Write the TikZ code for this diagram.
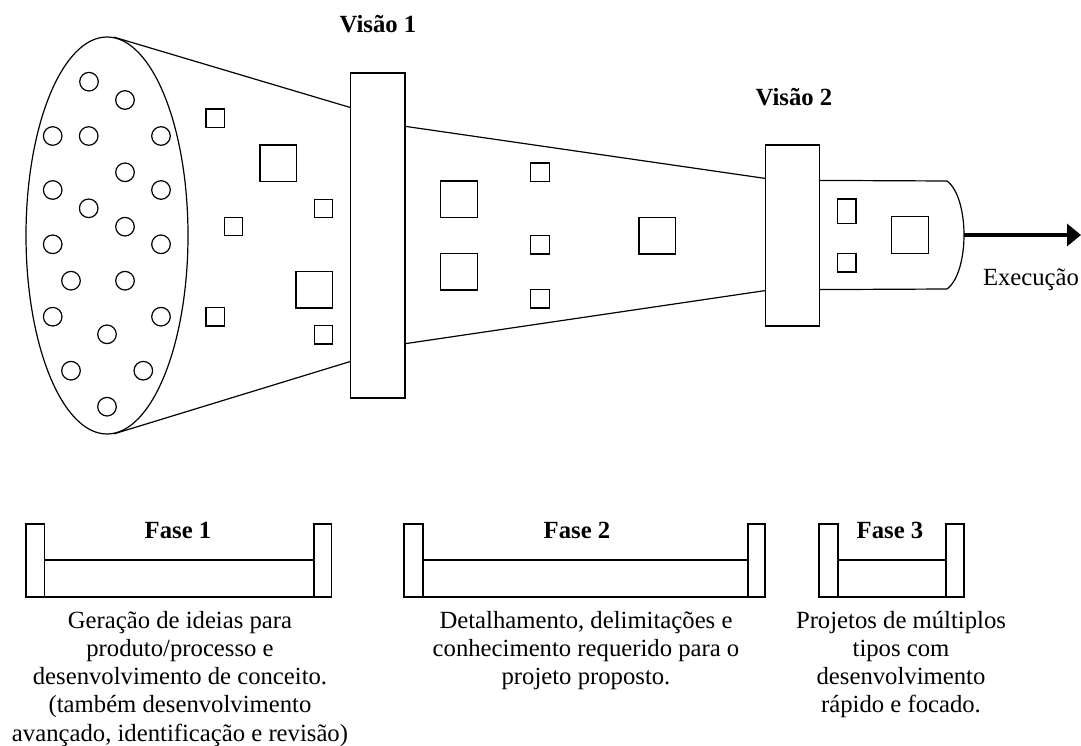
\documentclass[tikz,border=0pt]{standalone}
\usepackage{fontspec}
\setmainfont{Liberation Serif}
\usetikzlibrary{arrows.meta,shapes.geometric}
\begin{document}
\begin{tikzpicture}[x=1pt,y=-1pt,
  outline/.style={draw=black,line width=1.2pt},
  seed/.style={outline,circle,minimum size=18.6pt,inner sep=0pt},
  smallsq/.style={outline,rectangle,minimum size=18.4pt,inner sep=0pt},
  bigsq/.style={outline,rectangle,minimum size=36.7pt,inner sep=0pt},
  gate/.style={outline,rectangle,inner sep=0pt},
  title/.style={font=\fontsize{24.7}{28.3}\selectfont\bfseries,anchor=base,inner sep=0pt},
  desc/.style={font=\fontsize{24.7}{28.3}\selectfont,align=center,anchor=base,inner sep=0pt},
  flow/.style={-{Triangle[length=14pt,width=22pt]},line width=4pt}
]
\useasboundingbox[fill=white] (0,0) rectangle (1081,746);

% idea funnel mouth
\node[outline,ellipse,minimum width=162pt,minimum height=397pt,inner sep=0pt] (funnel) at (107,235.5) {};
\foreach \x/\y [count=\i] in {89/81.7,125/100,52.7/136,88.7/136,161/136,125/172.3,
  52.7/190,161/190,88.7/208.3,125/226.7,52.7/244.3,161/244.3,71/280.7,125/280.7,
  52.7/316.7,161/316.7,107/334.3,71/370.7,143.3/370.7,107/406.7}
  \node[seed] (idea\i) at (\x,\y) {};

% gates
\node[gate,minimum width=54.5pt,minimum height=325pt] (v1) at (377.8,235.5) {};
\node[gate,minimum width=53.6pt,minimum height=181pt] (v2) at (792.5,235.5) {};

% stage 1 walls
\draw[outline] (funnel.88) -- ([yshift=-35pt]v1.north west);
\draw[outline] (funnel.-88) -- ([yshift=37pt]v1.south west);
% stage 2 walls
\draw[outline] ([yshift=-54pt]v1.north east) -- ([yshift=-34pt]v2.north west);
\draw[outline] ([yshift=55pt]v1.south east) -- ([yshift=36pt]v2.south west);
% stage 3 tube
\coordinate (tube-end) at (964,235);
\coordinate (exec-tip) at (1081,235);
\draw[outline] ([yshift=-36pt]v2.north east) -- (947,181)
  .. controls (959,190) and (964,214) .. (tube-end)
  .. controls (964,256) and (959,280) .. (947,289)
  -- ([yshift=37pt]v2.south east);
\draw[flow] (tube-end) -- (exec-tip);
\node[desc] (exec) at (1031,285) {Execução};

% projects in stage 1
\node[smallsq] (a1) at (215.2,118.2) {};
\node[bigsq]   (a2) at (278.3,163.3) {};
\node[smallsq] (a3) at (323.3,208.5) {};
\node[smallsq] (a4) at (233.3,226.5) {};
\node[bigsq]   (a5) at (314.3,289.7) {};
\node[smallsq] (a6) at (215.2,316.7) {};
\node[smallsq] (a7) at (323.3,334.8) {};
% projects in stage 2
\node[bigsq]   (b1) at (458.8,199.3) {};
\node[smallsq] (b2) at (540,172.2) {};
\node[bigsq]   (b3) at (458.8,271.7) {};
\node[smallsq] (b4) at (540,244.7) {};
\node[smallsq] (b5) at (540,298.7) {};
\node[bigsq]   (b6) at (657.3,235.7) {};
% projects in stage 3
\node[outline,rectangle,minimum width=18.4pt,minimum height=24.3pt,inner sep=0pt] (c1) at (846.8,211.2) {};
\node[smallsq] (c2) at (846.8,262.7) {};
\node[bigsq]   (c3) at (910,235) {};

% gate titles
\node[title] (t1) at (378,33) {Visão 1};
\node[title] (t2) at (794,106) {Visão 2};

% phase brackets
\draw[outline] (26,524) rectangle (44.3,597);
\draw[outline] (314,524) rectangle (331.7,597);
\draw[outline] (44.3,560) rectangle (314,597);
\draw[outline] (404,524) rectangle (423,597);
\draw[outline] (748,524) rectangle (765,597);
\draw[outline] (423,560) rectangle (748,597);
\draw[outline] (819,524) rectangle (838,597);
\draw[outline] (946,524) rectangle (964,597);
\draw[outline] (838,560) rectangle (946,597);

\node[title] (f1) at (178,538) {Fase 1};
\node[title] (f2) at (577,538) {Fase 2};
\node[title] (f3) at (890,538) {Fase 3};

% phase descriptions (anchored at the baseline of their last line)
\node[desc] (d1) at (180,741.2) {Geração de ideias para\\produto/processo e\\desenvolvimento de conceito.\\(também desenvolvimento\\avançado, identificação e revisão)};
\node[desc] (d2) at (586,684.6) {Detalhamento, delimitações e\\conhecimento requerido para o\\projeto proposto.};
\node[desc] (d3) at (901,712.9) {Projetos de múltiplos\\tipos com\\desenvolvimento\\rápido e focado.};
\end{tikzpicture}
\end{document}
